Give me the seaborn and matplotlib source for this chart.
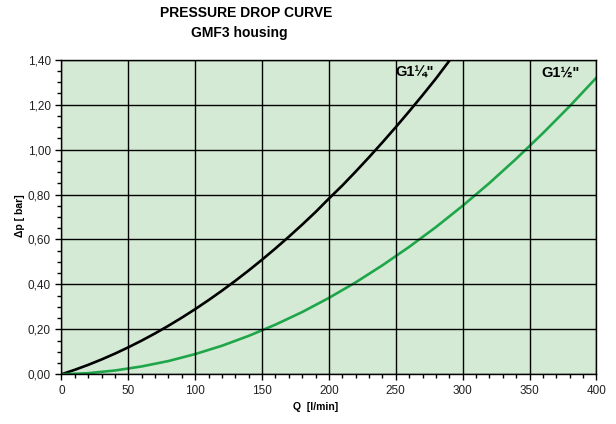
import matplotlib
matplotlib.use("Agg")
import matplotlib.pyplot as plt
import matplotlib.ticker as mticker
import seaborn as sns
import pandas as pd

sns.set_theme(style="white")
plt.rcParams['font.family'] = ['Liberation Sans', 'DejaVu Sans']
plt.rcParams['text.color'] = 'black'

# curve values (Q in l/min, dp in bar)
q_g114 = [0, 10, 20, 30, 40, 50, 60, 70, 80, 90, 100, 110, 120, 130, 140, 150,
          160, 170, 180, 190, 200, 210, 220, 230, 240, 250, 260, 270, 280, 290, 300]
dp_g114 = [0, 0.020, 0.042, 0.066, 0.092, 0.120, 0.150, 0.182, 0.216, 0.252, 0.290,
           0.330, 0.372, 0.416, 0.462, 0.510, 0.560, 0.612, 0.666, 0.722, 0.782,
           0.840, 0.902, 0.966, 1.032, 1.100, 1.170, 1.242, 1.316, 1.395, 1.470]

q_g112 = [0, 20, 40, 60, 80, 100, 120, 140, 160, 180, 200, 220, 240, 260, 280,
          300, 320, 340, 360, 380, 400]
dp_g112 = [0, 0.005, 0.017, 0.035, 0.059, 0.090, 0.127, 0.171, 0.221, 0.277, 0.340,
           0.409, 0.485, 0.567, 0.655, 0.750, 0.851, 0.959, 1.073, 1.193, 1.320]

x_ticks = [0, 50, 100, 150, 200, 250, 300, 350, 400]
y_ticks = [0.0, 0.2, 0.4, 0.6, 0.8, 1.0, 1.2, 1.4]

df = pd.concat([
    pd.DataFrame({'Q': q_g114, 'dp': dp_g114, 'size': 'G1¼"'}),
    pd.DataFrame({'Q': q_g112, 'dp': dp_g112, 'size': 'G1½"'}),
])

fig = plt.figure(figsize=(6.16, 4.24), dpi=100)
ax = fig.add_axes([0.0997, 0.1172, 0.8685, 0.7420])
ax.set_facecolor('#d5ead5')

sns.lineplot(data=df, x='Q', y='dp', hue='size', palette=['#000000', '#1fa64a'],
             linewidth=1.9, legend=False, ax=ax, sort=False)

ax.set_xlim(0, 400)
ax.set_ylim(0, 1.4)
ax.set_xticks(x_ticks)
ax.set_yticks(y_ticks)
ax.xaxis.set_minor_locator(mticker.MultipleLocator(10))
ax.yaxis.set_minor_locator(mticker.MultipleLocator(0.05))
ax.yaxis.set_major_formatter(mticker.FuncFormatter(lambda v, p: f"{v:.2f}".replace('.', ',')))
ax.xaxis.set_major_formatter(mticker.FuncFormatter(lambda v, p: f"{v:.0f}"))
ax.grid(True, which='major', color='black', linewidth=1.0)
ax.set_axisbelow(False)
for s in ax.spines.values():
    s.set_color('black')
    s.set_linewidth(1.0)
ax.tick_params(which='both', direction='out', color='black', labelsize=8.5,
               labelcolor='#222222', bottom=True, left=True)
ax.tick_params(which='major', length=4, width=1)
ax.tick_params(which='minor', length=3, width=1)

ax.set_xlabel('')
ax.set_ylabel('')
fig.text(316 / 616, 1 - 407 / 424, 'Q  [l/min]', ha='center', va='center',
         fontsize=7.5, fontweight='bold')
fig.text(20 / 616, 1 - 216 / 424, 'Δp [ bar]', ha='center', va='center',
         rotation=90, fontsize=7.5, fontweight='bold')

ax.text(250, 1.343, 'G1¼"', fontsize=10.5, fontweight='bold', ha='left', va='center')
ax.text(359, 1.343, 'G1½"', fontsize=10.5, fontweight='bold', ha='left', va='center')

fig.text(246 / 616, 1 - 13 / 424, 'PRESSURE DROP CURVE', ha='center', va='center',
         fontsize=10, fontweight='bold')
fig.text(239 / 616, 1 - 33 / 424, 'GMF3 housing', ha='center', va='center',
         fontsize=10, fontweight='bold')

fig.savefig('out.png', dpi=100)
